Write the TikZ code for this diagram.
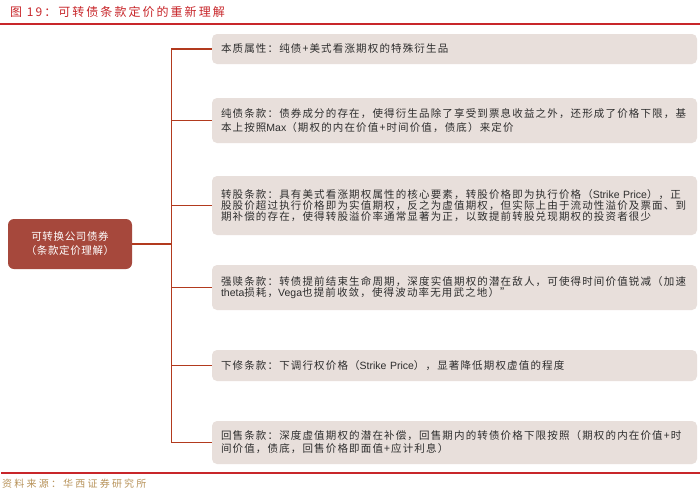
\documentclass[tikz,border=0pt]{standalone}
\usepackage{fontspec}
\setmainfont{Liberation Sans}
\newfontfamily\cjk[LetterSpace=11]{Noto Sans CJK SC}
\newfontfamily\cjkroot[LetterSpace=6]{Noto Sans CJK SC}
\newfontfamily\cjktitle[LetterSpace=17]{Noto Sans CJK SC}
\newfontfamily\cjkfoot[LetterSpace=22]{Noto Sans CJK SC}
\newfontfamily\lat{Liberation Sans}
\definecolor{hxred}{RGB}{200,38,42}
\definecolor{rootfill}{RGB}{166,72,60}
\definecolor{boxfill}{RGB}{232,223,219}
\definecolor{linkcol}{RGB}{178,58,30}
\definecolor{txt}{RGB}{45,45,45}
\definecolor{foot}{RGB}{184,147,90}
\tikzset{
  leaf/.style={rectangle, rounded corners=5pt, fill=boxfill, draw=none,
    minimum width=485pt, text width=467pt, inner xsep=9pt, inner ysep=0pt,
    align=left, text=txt, font=\cjk\fontsize{10.5}{12.5}\selectfont},
  rootbox/.style={rectangle, rounded corners=6pt, fill=rootfill, draw=none,
    minimum width=124pt, minimum height=50pt, align=center, text=white,
    font=\cjkroot\fontsize{10.5}{14}\selectfont},
  link/.style={draw=linkcol, line width=1.4pt},
  rule/.style={draw=hxred, line width=1.3pt}
}
\begin{document}
\begin{tikzpicture}[x=1pt,y=-1pt]
\useasboundingbox (0,0) rectangle (700,491);
\fill[white] (0,0) rectangle (700,491);
% title and rules
\node[anchor=west, inner sep=0pt, text=hxred, font=\cjktitle\fontsize{12}{13}\selectfont] (title) at (10,12) {图 19：可转债条款定价的重新理解};
\coordinate (tl) at (0,24);
\coordinate (tr) at (700,24);
\draw[rule] (tl) -- (tr);
\coordinate (bl) at (1,473);
\coordinate (br) at (700,473);
\draw[rule] (bl) -- (br);
\node[anchor=west, inner sep=0pt, text=foot, font=\cjkfoot\fontsize{10}{11}\selectfont] (source) at (2,484) {资料来源：华西证券研究所};
% root
\node[rootbox] (root) at (70,244) {可转换公司债券\\（条款定价理解）};
% leaves
\node[leaf, minimum height=30pt] (b1) at (454.5,49) {本质属性：纯债+美式看涨期权的特殊衍生品};
\node[leaf, minimum height=45pt, font=\cjk\fontsize{10.5}{13.5}\selectfont] (b2) at (454.5,120.5) {纯债条款：债券成分的存在，使得衍生品除了享受到票息收益之外，还形成了价格下限，基\\本上按照{\lat Max}（期权的内在价值+时间价值，债底）来定价};
\node[leaf, minimum height=59pt, font=\cjk\fontsize{10.5}{11}\selectfont] (b3) at (454.5,205.5) {转股条款：具有美式看涨期权属性的核心要素，转股价格即为执行价格（{\lat Strike~Price}），正\\股股价超过执行价格即为实值期权，反之为虚值期权，但实际上由于流动性溢价及票面、到\\期补偿的存在，使得转股溢价率通常显著为正，以致提前转股兑现期权的投资者很少};
\node[leaf, minimum height=45pt, font=\cjk\fontsize{10.5}{11.5}\selectfont] (b4) at (454.5,287.5) {强赎条款：转债提前结束生命周期，深度实值期权的潜在敌人，可使得时间价值锐减（加速\\{\lat theta}损耗，{\lat Vega}也提前收敛，使得波动率无用武之地）”};
\node[leaf, minimum height=31pt] (b5) at (454.5,365.5) {下修条款：下调行权价格（{\lat Strike~Price}），显著降低期权虚值的程度};
\node[leaf, minimum height=43pt, font=\cjk\fontsize{10.5}{13}\selectfont] (b6) at (454.5,442.5) {回售条款：深度虚值期权的潜在补偿，回售期内的转债价格下限按照（期权的内在价值+时\\间价值，债底，回售价格即面值+应计利息）};
% connectors
\coordinate (j) at (171.7,244);
\draw[link] (root.east) -- (j);
\foreach \b in {b1,b2,b3,b4,b5,b6} {
  \draw[link] (j) |- (\b.west);
}
\end{tikzpicture}
\end{document}
